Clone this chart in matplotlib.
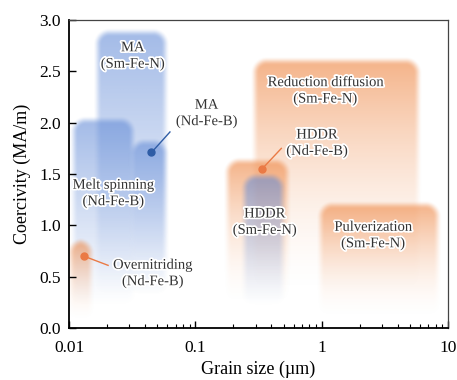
import numpy as np
import matplotlib.pyplot as plt
import matplotlib.patheffects as pe
from matplotlib.ticker import FixedLocator, FixedFormatter, NullFormatter

plt.rcParams['font.family'] = ['Liberation Serif', 'DejaVu Serif']

# process windows: grain size range (um), coercivity top, where the fade ends
box_names = ['Melt spinning', 'MA Sm-Fe-N', 'MA Nd-Fe-B', 'Reduction diffusion',
             'Pulverization', 'HDDR Nd-Fe-B', 'HDDR Sm-Fe-N', 'Overnitriding']
box_xmin = [0.0108, 0.0167, 0.0316, 0.29, 0.97, 0.178, 0.245, 0.0102]
box_xmax = [0.0316, 0.0575, 0.0575, 5.7, 8.2, 0.53, 0.49, 0.0148]
box_top = [2.02, 2.88, 1.81, 2.6, 1.2, 1.62, 1.47, 0.84]
box_bottom = [0.2, 0.3, 0.3, 0.3, 0.08, 0.2, 0.2, 0.05]
box_kind = ['b', 'b', 'b', 'o', 'o', 'o', 'b', 'o']

# labels
lab_text = ['MA\n(Sm-Fe-N)', 'MA\n(Nd-Fe-B)', 'Melt spinning\n(Nd-Fe-B)',
            'Overnitriding\n(Nd-Fe-B)', 'Reduction diffusion\n(Sm-Fe-N)',
            'HDDR\n(Nd-Fe-B)', 'HDDR\n(Sm-Fe-N)', 'Pulverization\n(Sm-Fe-N)']
lab_x = [0.032, 0.123, 0.0224, 0.046, 1.07, 0.92, 0.355, 2.56]
lab_y = [2.65, 2.09, 1.31, 0.53, 2.31, 1.80, 1.03, 0.90]

# leader lines: marker point -> line end
lead_x = [0.045, 0.338, 0.0131]
lead_y = [1.71, 1.55, 0.70]
lead_ex = [0.063, 0.48, 0.0204]
lead_ey = [1.91, 1.75, 0.61]
lead_kind = ['b', 'o', 'o']

fill_rgb = {'b': (0.38, 0.54, 0.84), 'o': (0.94, 0.55, 0.30)}
fill_alpha = {'b': 0.58, 'o': 0.66}
fill_pow = {'b': 1.1, 'o': 1.7}
dot_col = {'b': '#2f5da6', 'o': '#ea7a45'}

fig = plt.figure(figsize=(4.57, 3.8), dpi=100)
ax = fig.add_axes([0.151, 0.137, 0.829, 0.810])
ax.set_xscale('log')
ax.set_xlim(0.01, 10)
ax.set_ylim(0, 3.0)

bb = ax.get_window_extent()
px_dec = bb.width / 3.0
px_unit = bb.height / 3.0


def soft_box(x0, x1, y0, y1, kind, z):
    pad = 10.0
    r = 12.0
    blur = 9.0
    x0p = x0 * 10 ** (-pad / px_dec)
    x1p = x1 * 10 ** (pad / px_dec)
    y0p = y0
    y1p = y1 + pad / px_unit
    nx, ny = 1500, 300
    xs = np.linspace(x0p, x1p, nx)
    ys = np.linspace(y0p, y1p, ny)
    X = (np.log10(xs) - np.log10(x0)) * px_dec
    Y = (ys - y0) * px_unit
    X, Y = np.meshgrid(X, Y)
    w = (np.log10(x1) - np.log10(x0)) * px_dec
    h = (y1 - y0) * px_unit
    qx = np.abs(X - w / 2) - (w / 2 - r)
    qy = np.abs(Y - h / 2) - (h / 2 - r)
    sdf = np.hypot(np.maximum(qx, 0), np.maximum(qy, 0)) + np.minimum(np.maximum(qx, qy), 0) - r
    edge = np.clip(0.5 - sdf / blur, 0, 1)
    edge = edge * edge * (3 - 2 * edge)
    t = np.clip(Y / h, 0, 1)
    alpha = fill_alpha[kind] * edge * t ** fill_pow[kind]
    img = np.zeros((ny, nx, 4))
    img[..., :3] = fill_rgb[kind]
    img[..., 3] = alpha
    ax.imshow(img, extent=(x0p, x1p, y0p, y1p), origin='lower', aspect='auto',
              interpolation='bilinear', zorder=z)


for i in range(len(box_names)):
    soft_box(box_xmin[i], box_xmax[i], box_bottom[i], box_top[i], box_kind[i], 1 + i * 0.01)

for i in range(len(lead_x)):
    c = dot_col[lead_kind[i]]
    ax.plot([lead_x[i], lead_ex[i]], [lead_y[i], lead_ey[i]], color=c, lw=1.0, zorder=3)
    ax.plot(lead_x[i], lead_y[i], 'o', color=c, ms=5, zorder=3)

halo = [pe.withStroke(linewidth=2.5, foreground='white')]
for i in range(len(lab_text)):
    ax.text(lab_x[i], lab_y[i], lab_text[i], ha='center', va='center', fontsize=10.5,
            color='#333333', linespacing=1.3, zorder=4, path_effects=halo)

ax.set_xlim(0.01, 10)
ax.set_ylim(0, 3.0)
ax.xaxis.set_major_locator(FixedLocator([0.01, 0.1, 1, 10]))
ax.xaxis.set_major_formatter(FixedFormatter(['0.01', '0.1', '1', '10']))
ax.xaxis.set_minor_formatter(NullFormatter())
ax.set_yticks([0, 0.5, 1.0, 1.5, 2.0, 2.5, 3.0])
ax.set_yticklabels(['0.0', '0.5', '1.0', '1.5', '2.0', '2.5', '3.0'])
ax.tick_params(which='both', direction='in', top=False, right=False, labelsize=12.5)
ax.tick_params(axis='y', pad=6)
ax.tick_params(axis='x', pad=9)
ax.tick_params(which='major', length=5, width=1)
ax.tick_params(which='minor', length=3, width=0.8)
for s in ['left', 'bottom']:
    ax.spines[s].set_linewidth(1.3)
for s in ['top', 'right']:
    ax.spines[s].set_linewidth(0.9)
    ax.spines[s].set_color('#444444')

ax.set_xlabel('Grain size (µm)', fontsize=13, labelpad=3)
ax.set_ylabel('Coercivity (MA/m)', fontsize=13, labelpad=6)

fig.savefig('out.png', dpi=100)
